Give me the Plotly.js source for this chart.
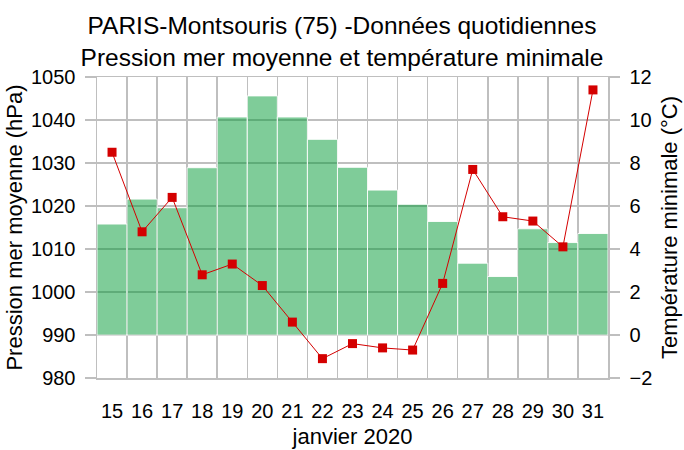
<!DOCTYPE html>
<html><head><meta charset="utf-8">
<script src="https://cdn.plot.ly/plotly-3.0.1.min.js"></script>
<style>body{margin:0;background:#fff}#c{width:684px;height:450px}</style>
</head><body><div id="c"></div>
<script>
const days = ["15","16","17","18","19","20","21","22","23","24","25","26","27","28","29","30","31"];
const pressure = [1015.8,1021.6,1019.6,1028.9,1040.7,1045.6,1040.7,1035.5,1029.0,1023.7,1020.4,1016.4,1006.7,1003.6,1014.7,1011.5,1013.6];
const tmin = [8.5,4.8,6.4,2.8,3.3,2.3,0.6,-1.1,-0.4,-0.6,-0.7,2.4,7.7,5.5,5.3,4.1,11.4];
const pressureBase = 990;

const F = "'Liberation Sans', Arial, sans-serif";
const traces = [
  {type:'bar', x:days, y:pressure.map(p=>p-pressureBase), base:pressureBase,
   marker:{color:'rgba(0,153,51,0.5)', line:{color:'rgba(255,255,255,0.9)', width:1}},
   hoverinfo:'skip', yaxis:'y'},
  {type:'scatter', mode:'lines+markers', x:days, y:tmin, yaxis:'y2',
   line:{color:'#d40000', width:1},
   marker:{symbol:'square', size:9, color:'#d40000'}}
];
const layout = {
  width:684, height:450, showlegend:false,
  paper_bgcolor:'#fff', plot_bgcolor:'#fff',
  margin:{l:97, r:76, t:77, b:72},
  bargap:0,
  font:{family:F, color:'#000'},
  title:{text:'PARIS-Montsouris (75) -Données quotidiennes<br>Pression mer moyenne et température minimale',
    font:{size:24.5, family:F}, x:0.5, xanchor:'center', yref:'container', y:0.925, yanchor:'middle'},
  xaxis:{type:'category', range:[-0.5,16.5], autorange:false, tickson:'boundaries', showgrid:true, gridcolor:'#bfbfbf', gridwidth:1.5,
    ticks:'', tickangle:0, tickfont:{size:20}, ticklabelstandoff:14, showline:true, linecolor:'#bfbfbf', linewidth:1.5, mirror:true,
    title:{text:'janvier 2020', font:{size:22}, standoff:8}},
  yaxis:{range:[980,1050], dtick:10, showgrid:true, gridcolor:'#bfbfbf', gridwidth:1.5,
    ticks:'outside', ticklen:11, tickcolor:'#bfbfbf', tickwidth:1.5, tickfont:{size:20}, ticklabelstandoff:5,
    showline:true, linecolor:'#bfbfbf', linewidth:1.5, zeroline:false,
    title:{text:'Pression mer moyenne (hPa)', font:{size:22}, standoff:2}},
  yaxis2:{range:[-2,12], dtick:2, overlaying:'y', side:'right', showgrid:false, zeroline:false,
    ticks:'outside', ticklen:10, tickcolor:'#bfbfbf', tickwidth:1.5, tickfont:{size:20}, ticklabelstandoff:6,
    showline:true, linecolor:'#bfbfbf', linewidth:1.5,
    title:{text:'Température minimale (°C)', font:{size:22}, standoff:10}}
};
Plotly.newPlot('c', traces, layout, {displayModeBar:false, staticPlot:true});
</script></body></html>
